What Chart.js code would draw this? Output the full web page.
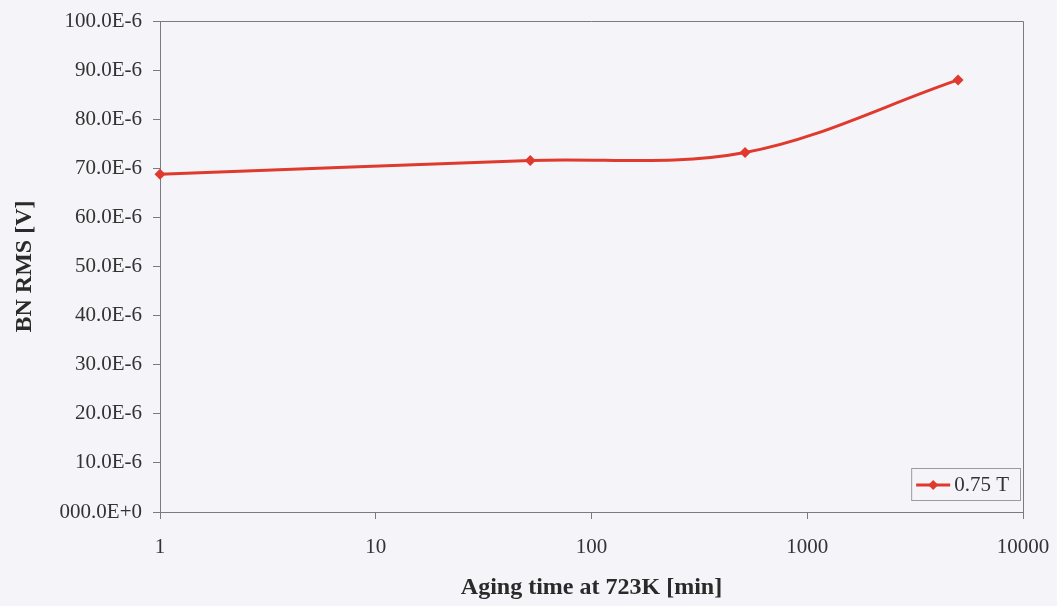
<!DOCTYPE html>
<html>
<head>
<meta charset="utf-8">
<script src="https://cdn.jsdelivr.net/npm/chart.js@4"></script>
<style>
  html, body { margin: 0; padding: 0; background: #f4f4f9; }
  #wrap { width: 1057px; height: 606px; position: relative; }
</style>
</head>
<body>
<div id="wrap"><canvas id="c" width="1057" height="606"></canvas></div>
<script>
// Data
const agingTimeMin = [1, 52, 515, 5000];
const bnRmsMicroVolt = [68.8, 71.6, 73.2, 88.0];
const seriesLabel = '0.75 T';
const xTickValues = [1, 10, 100, 1000, 10000];
const yTickValues = [0, 10, 20, 30, 40, 50, 60, 70, 80, 90, 100];
const xTitle = 'Aging time at 723K [min]';
const yTitle = 'BN RMS [V]';

const RED = '#e0392d';
const AXIS = '#7a7a80';
const TEXT = '#333333';
const FONT = "'Liberation Serif', 'Times New Roman', serif";

const frame = {
  id: 'frame',
  beforeDatasetsDraw(chart) {
    const {ctx, chartArea: a} = chart;
    ctx.save();
    ctx.strokeStyle = AXIS;
    ctx.lineWidth = 1;
    ctx.beginPath();
    ctx.moveTo(a.left, a.top + 0.5);
    ctx.lineTo(a.right + 0.5, a.top + 0.5);
    ctx.lineTo(a.right + 0.5, a.bottom);
    ctx.stroke();
    ctx.restore();
  }
};

const boxLegend = {
  id: 'boxLegend',
  afterDatasetsDraw(chart) {
    const {ctx, chartArea: a} = chart;
    const ds = chart.data.datasets[0];
    ctx.save();
    ctx.font = '21px ' + FONT;
    const tw = ctx.measureText(ds.label).width;
    const h = 32;
    const w = 8 + 34 + 4 + tw + 8;
    const x = a.right - 3 - w;
    const y = a.bottom - 12 - h;
    ctx.fillStyle = '#f4f4f9';
    ctx.fillRect(x, y, w, h);
    ctx.strokeStyle = '#9a9aa0';
    ctx.lineWidth = 1;
    ctx.strokeRect(x + 0.5, y + 0.5, w, h);
    const cy = y + h / 2 + 1;
    ctx.strokeStyle = RED;
    ctx.lineWidth = 3;
    ctx.beginPath();
    ctx.moveTo(x + 5, cy);
    ctx.lineTo(x + 39, cy);
    ctx.stroke();
    ctx.fillStyle = RED;
    ctx.beginPath();
    const mx = x + 22, r = 5;
    ctx.moveTo(mx, cy - r); ctx.lineTo(mx + r, cy); ctx.lineTo(mx, cy + r); ctx.lineTo(mx - r, cy);
    ctx.closePath();
    ctx.fill();
    ctx.fillStyle = TEXT;
    ctx.textBaseline = 'middle';
    ctx.textAlign = 'left';
    ctx.fillText(ds.label, x + 43, cy);
    ctx.restore();
  }
};

new Chart(document.getElementById('c'), {
  type: 'line',
  data: {
    datasets: [{
      label: seriesLabel,
      data: agingTimeMin.map((t, i) => ({x: t, y: bnRmsMicroVolt[i]})),
      borderColor: RED,
      backgroundColor: RED,
      borderWidth: 3,
      tension: 0.35,
      pointStyle: 'rectRot',
      pointRadius: 5.5,
      pointHoverRadius: 5.5,
      pointBorderWidth: 0,
      clip: false
    }]
  },
  options: {
    responsive: false,
    animation: false,
    devicePixelRatio: 1,
    layout: { padding: { top: 21, right: 34, left: 0, bottom: 0 } },
    plugins: { legend: { display: false }, tooltip: { enabled: false } },
    scales: {
      x: {
        type: 'logarithmic',
        min: 1, max: 10000,
        afterBuildTicks(s) { s.ticks = xTickValues.map(v => ({value: v, major: true})); },
        afterFit(s) { s.height = 94; s.paddingLeft = 0; s.paddingRight = 0; },
        grid: { drawOnChartArea: false, color: AXIS, tickLength: 7, tickWidth: 1 },
        border: { color: AXIS, width: 1 },
        ticks: {
          autoSkip: false, maxRotation: 0, padding: 16,
          color: TEXT, font: { family: FONT, size: 21 },
          callback: (v) => String(v)
        },
        title: {
          display: true, text: xTitle, color: '#2a2a2a',
          font: { family: FONT, size: 24, weight: 'bold' },
          padding: { top: 0, bottom: 4 }
        }
      },
      y: {
        min: 0, max: 100,
        afterBuildTicks(s) { s.ticks = yTickValues.map(v => ({value: v})); },
        afterFit(s) { s.width = 160; s.paddingTop = 0; s.paddingBottom = 0; },
        grid: { drawOnChartArea: false, color: AXIS, tickLength: 7, tickWidth: 1 },
        border: { color: AXIS, width: 1 },
        ticks: {
          padding: 11, color: TEXT, font: { family: FONT, size: 21 },
          callback: (v) => v === 0 ? '000.0E+0' : v.toFixed(1) + 'E-6'
        },
        title: {
          display: true, text: yTitle, color: '#2a2a2a',
          font: { family: FONT, size: 24, weight: 'bold' },
          padding: { top: 10, bottom: 0 }
        }
      }
    }
  },
  plugins: [frame, boxLegend]
});
</script>
</body>
</html>
